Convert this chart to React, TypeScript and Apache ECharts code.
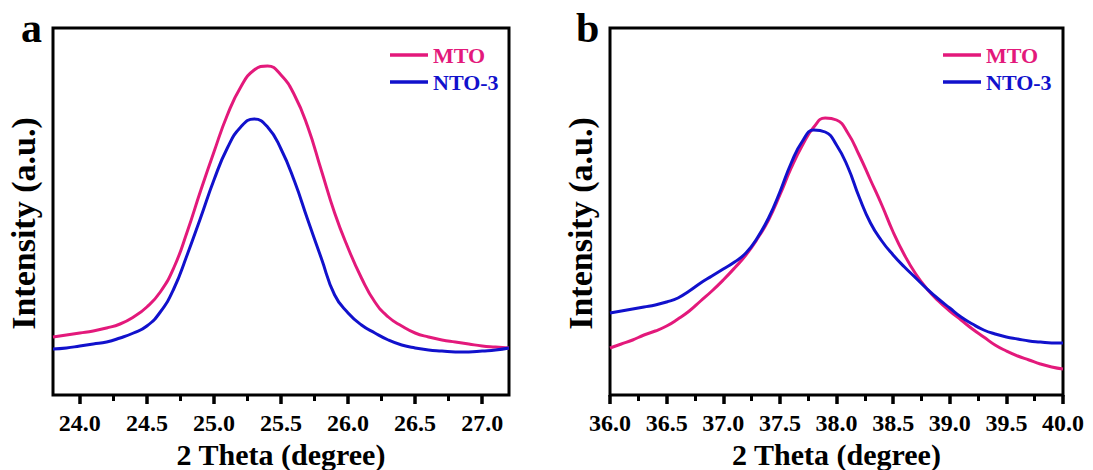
import React, { useEffect, useRef } from 'react';
import * as echarts from 'echarts';

const FONT = "'Liberation Serif', 'Times New Roman', serif";
const PINK = '#E3197B';
const BLUE = '#1111CC';

const panelLetters = ['a', 'b'];
const seriesNames = ['MTO', 'NTO-3'];
const xAxisName = '2 Theta (degree)';
const yAxisName = 'Intensity (a.u.)';

// Panel a tick values
const leftMajorTicks = [24.0, 24.5, 25.0, 25.5, 26.0, 26.5, 27.0];
const leftMinorTicks = [24.25, 24.75, 25.25, 25.75, 26.25, 26.75];
// Panel b tick values
const rightMajorTicks = [36.0, 36.5, 37.0, 37.5, 38.0, 38.5, 39.0, 39.5, 40.0];
const rightMinorTicks = [36.25, 36.75, 37.25, 37.75, 38.25, 38.75, 39.25, 39.75];

// Panel a: 2theta positions and intensities (a.u.)
const leftTheta = [
  23.8, 23.9, 24.0, 24.1, 24.2, 24.3, 24.4, 24.5, 24.6, 24.7, 24.8, 24.9, 25.0, 25.1, 25.2,
  25.3, 25.4, 25.5, 25.6, 25.7, 25.8, 25.9, 26.0, 26.1, 26.2, 26.3, 26.4, 26.5, 26.6, 26.7,
  26.8, 26.9, 27.0, 27.1, 27.2,
];
const leftMTO = [
  58, 60, 62, 64, 67, 71, 78, 88, 103, 127, 163, 204, 243, 280, 308,
  325, 329, 320, 300, 268, 225, 182, 147, 117, 93, 78, 69, 62, 58, 55,
  53, 51, 49, 48, 47,
];
const leftNTO = [
  46, 47, 49, 51, 53, 57, 62, 69, 83, 106, 140, 177, 215, 247, 268,
  276, 268, 246, 214, 175, 137, 100, 82, 70, 62, 55, 50, 47, 45, 44,
  43, 43, 44, 45, 47,
];

// Panel b: 2theta positions and intensities (a.u.)
const rightTheta = [
  36.0, 36.1, 36.2, 36.3, 36.4, 36.5, 36.6, 36.7, 36.8, 36.9, 37.0, 37.1, 37.2, 37.3,
  37.4, 37.5, 37.6, 37.7, 37.8, 37.9, 38.0, 38.1, 38.2, 38.3, 38.4, 38.5, 38.6, 38.7,
  38.8, 38.9, 39.0, 39.1, 39.2, 39.3, 39.4, 39.5, 39.6, 39.7, 39.8, 39.9, 40.0,
];
const rightMTO = [
  47, 51, 55, 60, 64, 69, 76, 84, 94, 104, 115, 127, 140, 156,
  175, 200, 227, 250, 268, 277, 275, 262, 240, 215, 190, 163, 140, 121,
  106, 94, 84, 75, 66, 58, 50, 44, 39, 35, 31, 28, 26,
];
const rightNTO = [
  82, 84, 86, 88, 90, 93, 97, 104, 112, 119, 126, 133, 142, 157,
  177, 203, 232, 254, 265, 263, 250, 228, 198, 172, 154, 140, 128, 117,
  106, 96, 87, 78, 71, 65, 61, 58, 56, 54, 53, 52, 52,
];

const Y_MAX = 367;

const pairs = (xs: number[], ys: number[]) => xs.map((x, i) => [x, ys[i]]);

function makeXAxes(gridIndex: number, min: number, max: number, major: number[], minor: number[]) {
  return [
    {
      type: 'value', gridIndex, min, max, position: 'bottom',
      name: xAxisName, nameLocation: 'middle', nameGap: 40,
      nameTextStyle: { fontSize: 30, fontWeight: 'bold', fontFamily: FONT, color: '#000' },
      axisLine: { show: false },
      axisTick: { show: true, inside: false, length: 9, lineStyle: { color: '#000', width: 3.5 }, customValues: major },
      axisLabel: {
        show: true, margin: 16, fontSize: 24, fontWeight: 'bold', fontFamily: FONT, color: '#000',
        customValues: major, formatter: (v: number) => v.toFixed(1),
      },
      splitLine: { show: false },
    },
    {
      type: 'value', gridIndex, min, max, position: 'bottom',
      axisLine: { show: false },
      axisTick: { show: true, inside: false, length: 6, lineStyle: { color: '#000', width: 3 }, customValues: minor },
      axisLabel: { show: false },
      splitLine: { show: false },
    },
  ];
}

function makeYAxis(gridIndex: number) {
  return {
    type: 'value', gridIndex, min: 0, max: Y_MAX,
    name: yAxisName, nameLocation: 'middle', nameGap: 13,
    nameTextStyle: { fontSize: 34, fontWeight: 'bold', fontFamily: FONT, color: '#000', padding: [0, 24, 0, 0] },
    axisLine: { show: false }, axisTick: { show: false }, axisLabel: { show: false },
    splitLine: { show: false },
  };
}

function makeSeries(name: string, data: number[][], xAxisIndex: number, yAxisIndex: number, color: string) {
  return {
    type: 'line', name, data, xAxisIndex, yAxisIndex,
    showSymbol: false, symbol: 'none', smooth: 0.5,
    lineStyle: { color, width: 3 }, itemStyle: { color },
  };
}

function makeLegend(left: number) {
  return {
    left, top: 39, orient: 'vertical', icon: 'rect', itemWidth: 38, itemHeight: 3.5, itemGap: 5,
    selectedMode: false,
    textStyle: { fontSize: 22, fontWeight: 'bold', fontFamily: FONT },
    data: [
      { name: seriesNames[0], textStyle: { color: PINK } },
      { name: seriesNames[1], textStyle: { color: BLUE } },
    ],
  };
}

const gridBase = {
  top: 28, height: 367, show: true, borderColor: '#000', borderWidth: 3,
  backgroundColor: 'transparent', containLabel: false, outerBoundsMode: 'none',
};

export default function App() {
  const ref = useRef<HTMLDivElement>(null);
  useEffect(() => {
    if (!ref.current) return;
    const chart = echarts.init(ref.current, undefined, { renderer: 'svg' });
    chart.setOption({
      animation: false,
      backgroundColor: '#fff',
      grid: [
        { ...gridBase, left: 53, width: 456 },
        { ...gridBase, left: 610, width: 453 },
      ],
      xAxis: [
        ...makeXAxes(0, 23.8, 27.2, leftMajorTicks, leftMinorTicks),
        ...makeXAxes(1, 36.0, 40.0, rightMajorTicks, rightMinorTicks),
      ],
      yAxis: [makeYAxis(0), makeYAxis(1)],
      legend: [makeLegend(385), makeLegend(938)],
      series: [
        makeSeries(seriesNames[0], pairs(leftTheta, leftMTO), 0, 0, PINK),
        makeSeries(seriesNames[1], pairs(leftTheta, leftNTO), 0, 0, BLUE),
        makeSeries(seriesNames[0], pairs(rightTheta, rightMTO), 2, 1, PINK),
        makeSeries(seriesNames[1], pairs(rightTheta, rightNTO), 2, 1, BLUE),
      ],
      graphic: [
        { type: 'text', left: 21, top: 7, style: { text: panelLetters[0], font: `bold 42px ${FONT}`, fill: '#000' } },
        { type: 'text', left: 576, top: 7, style: { text: panelLetters[1], font: `bold 42px ${FONT}`, fill: '#000' } },
      ],
    });
    return () => chart.dispose();
  }, []);
  return <div ref={ref} style={{ position: 'fixed', left: 0, top: 0, width: 1093, height: 470 }} />;
}
